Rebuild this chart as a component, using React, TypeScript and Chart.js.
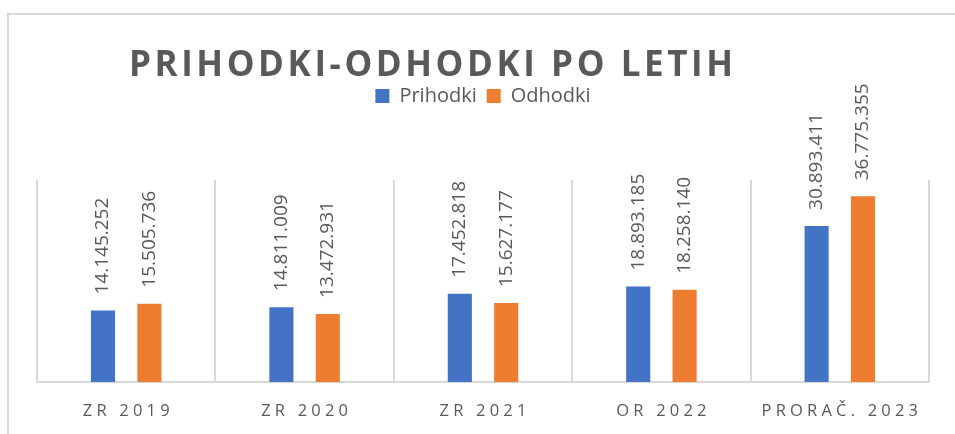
import React, { useEffect, useRef } from "react";
import { Chart, registerables } from "chart.js";

Chart.register(...registerables);

const TITLE = "PRIHODKI-ODHODKI PO LETIH";
const categories = ["ZR 2019", "ZR 2020", "ZR 2021", "OR 2022", "PRORAČ. 2023"];
const prihodki = [14145252, 14811009, 17452818, 18893185, 30893411];
const odhodki = [15505736, 13472931, 15627177, 18258140, 36775355];
const seriesNames = ["Prihodki", "Odhodki"];
const Y_MAX = 40000000;

const TEXT_COLOR = "#595959";
const FONT = "'Open Sans', 'DejaVu Sans', sans-serif";

function fmt(v: number): string {
  return String(Math.round(v)).replace(/\B(?=(\d{3})+(?!\d))/g, ".");
}

const customText = {
  id: "customText",
  afterDraw(chart: any) {
    const ctx = chart.ctx as CanvasRenderingContext2D;
    // Title with letter spacing
    ctx.save();
    ctx.font = `bold 35px ${FONT}`;
    ctx.fillStyle = TEXT_COLOR;
    ctx.textAlign = "left";
    ctx.textBaseline = "alphabetic";
    (ctx as any).letterSpacing = "0px";
    const w0 = ctx.measureText(TITLE).width;
    const targetW = 604;
    const sp = Math.max(0, (targetW - w0) / (TITLE.length - 1));
    (ctx as any).letterSpacing = `${sp}px`;
    ctx.fillText(TITLE, 129, 76);
    ctx.restore();

    // Category labels with letter spacing
    const xs = chart.scales.x;
    ctx.save();
    ctx.font = `16.5px ${FONT}`;
    ctx.fillStyle = TEXT_COLOR;
    ctx.textAlign = "center";
    ctx.textBaseline = "alphabetic";
    const ls = 4.2;
    (ctx as any).letterSpacing = `${ls}px`;
    chart.data.labels.forEach((lab: string, i: number) => {
      const x = xs.getPixelForValue(i);
      ctx.fillText(lab, x + ls / 2, 416);
    });
    ctx.restore();
  },
  afterDatasetsDraw(chart: any) {
    const ctx = chart.ctx as CanvasRenderingContext2D;
    ctx.save();
    ctx.font = `19px ${FONT}`;
    ctx.fillStyle = TEXT_COLOR;
    ctx.textAlign = "left";
    ctx.textBaseline = "middle";
    chart.data.datasets.forEach((ds: any, di: number) => {
      const meta = chart.getDatasetMeta(di);
      meta.data.forEach((el: any, i: number) => {
        ctx.save();
        ctx.translate(el.x, el.y - 16);
        ctx.rotate(-Math.PI / 2);
        ctx.fillText(fmt(ds.data[i]), 0, 0);
        ctx.restore();
      });
    });
    ctx.restore();
  },
};

export default function App() {
  const ref = useRef<HTMLCanvasElement | null>(null);
  useEffect(() => {
    if (!ref.current) return;
    const chart = new Chart(ref.current, {
      type: "bar",
      data: {
        labels: categories,
        datasets: [
          {
            label: seriesNames[0],
            data: prihodki,
            backgroundColor: "#4472C4",
            borderWidth: 0,
            categoryPercentage: 0.52,
            barPercentage: 0.52,
          },
          {
            label: seriesNames[1],
            data: odhodki,
            backgroundColor: "#ED7D31",
            borderWidth: 0,
            categoryPercentage: 0.52,
            barPercentage: 0.52,
          },
        ],
      },
      options: {
        responsive: false,
        animation: false,
        layout: { padding: { top: 76, left: 37, right: 26, bottom: 52 } },
        plugins: {
          title: { display: false },
          subtitle: {
            display: true,
            text: "",
            weight: 500,
            font: { size: 10, lineHeight: 1 },
            padding: { top: 0, bottom: 54 },
          } as any,
          legend: {
            display: true,
            position: "top",
            labels: {
              color: TEXT_COLOR,
              font: { family: FONT, size: 20 },
              boxWidth: 14,
              boxHeight: 14,
              padding: 10,
            },
          },
          tooltip: { enabled: false },
        },
        scales: {
          x: {
            grid: {
              display: true,
              color: "#d9d9d9",
              lineWidth: 2,
              drawTicks: false,
              offset: true,
            },
            border: { display: true, color: "#d9d9d9", width: 2 },
            ticks: { display: false },
          },
          y: {
            display: false,
            min: 0,
            max: Y_MAX,
          },
        },
      },
      plugins: [customText],
    });
    return () => chart.destroy();
  }, []);

  return (
    <div
      style={{
        position: "fixed",
        left: 0,
        top: 0,
        width: 955,
        height: 434,
        overflow: "hidden",
        background: "#ffffff",
      }}
    >
      <div
        style={{
          position: "absolute",
          left: 7,
          top: 13,
          width: 1100,
          height: 600,
          borderLeft: "2px solid #d9d9d9",
          borderTop: "2px solid #d9d9d9",
        }}
      />
      <canvas
        ref={ref}
        width={955}
        height={434}
        style={{ position: "absolute", left: 0, top: 0, width: 955, height: 434 }}
      />
    </div>
  );
}
